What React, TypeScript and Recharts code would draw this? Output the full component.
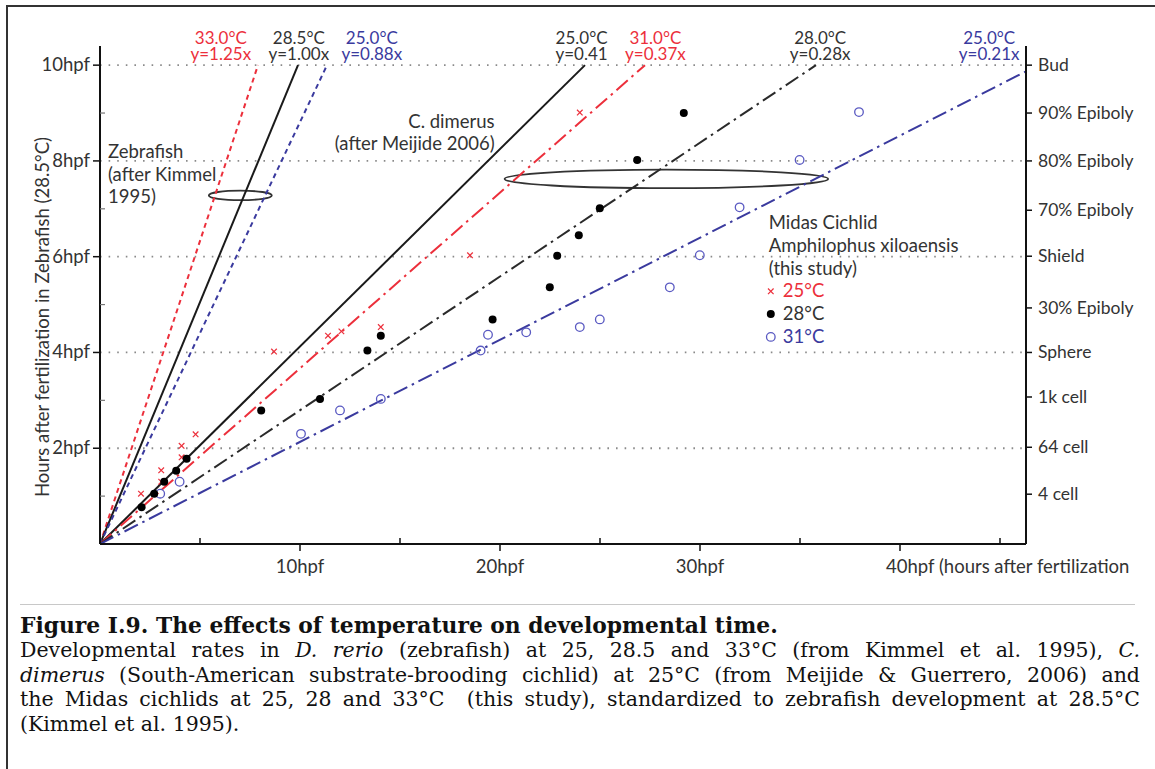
import React from "react";
import {
  ComposedChart,
  Line,
  Scatter,
  XAxis,
  YAxis,
  ReferenceLine,
  ReferenceArea,
  ReferenceDot,
} from "recharts";

const FONT = "Lato, 'Open Sans', sans-serif";
const RED = "#ec2f3b";
const BLUE = "#3a3a9e";
const BLUE_PT = "#5a5ac2";
const INK = "#333";
const AXIS = "#111";

// fitted development rates, standardized to zebrafish at 28.5°C
const fitTemps = ["33.0°C", "28.5°C", "25.0°C", "25.0°C", "31.0°C", "28.0°C", "25.0°C"];
const fitEquations = ["y=1.25x", "y=1.00x", "y=0.88x", "y=0.41", "y=0.37x", "y=0.28x", "y=0.21x"];
const fitEndX = [7.9, 9.9, 11.35, 24.25, 27.25, 35.8, 46.3];
const fitEndY = [10, 10, 10, 10, 10, 10, 9.87];
const fitLabelX = [6.04, 9.94, 13.59, 24.08, 27.77, 36.01, 44.46];

const DASHDOT = "15 5 2.5 5";
const fitStyles = [
  { color: RED, dash: "5 4" },
  { color: "#1a1a1a", dash: undefined },
  { color: BLUE, dash: "5 4" },
  { color: "#1a1a1a", dash: undefined },
  { color: RED, dash: DASHDOT },
  { color: "#2a2a2a", dash: DASHDOT },
  { color: BLUE, dash: DASHDOT },
];

// Midas cichlid observations [hpf, zebrafish-equivalent hpf]
const midas25: [number, number][] = [
  [2.05, 1.05], [3.06, 1.3], [3.06, 1.54], [4.08, 1.81], [4.08, 2.05], [4.78, 2.29],
  [8.7, 4.02], [11.4, 4.35], [12.07, 4.44], [14.04, 4.53], [18.5, 6.03], [23.99, 9.01],
];
const midas28: [number, number][] = [
  [2.08, 0.77], [2.71, 1.05], [3.21, 1.3], [3.81, 1.53], [4.33, 1.78], [8.06, 2.79],
  [11.0, 3.03], [13.37, 4.04], [14.04, 4.35], [19.63, 4.69], [22.49, 5.36], [22.86, 6.02],
  [23.94, 6.45], [24.99, 7.01], [26.86, 8.02], [29.19, 9.0],
];
const midas31: [number, number][] = [
  [3.01, 1.05], [3.98, 1.3], [10.05, 2.3], [12.0, 2.79], [14.04, 3.03], [19.03, 4.04],
  [19.4, 4.37], [21.31, 4.42], [23.99, 4.53], [24.99, 4.69], [28.49, 5.36], [29.99, 6.03],
  [31.98, 7.03], [34.98, 8.02], [37.95, 9.02],
];

const xTicks = [5, 10, 15, 20, 25, 30, 35, 40, 45];
const hourTicks = [1, 2, 3, 4, 5, 6, 7, 8, 9, 10];
const gridLevels = [2, 4, 6, 8, 10];
const stageHours = [1.04, 2.02, 3.07, 4.0, 4.93, 6.01, 6.97, 8.0, 9.0, 10.0];
const stageNames = [
  "4 cell", "64 cell", "1k cell", "Sphere", "30% Epiboly", "Shield",
  "70% Epiboly", "80% Epiboly", "90% Epiboly", "Bud",
];

// annotation ellipses [x1, x2, y1, y2]
const zebraEllipse = [5.44, 8.59, 7.18, 7.38];
const cichlidEllipse = [20.23, 36.41, 7.43, 7.82];

const toPts = (arr: [number, number][]) => arr.map(([x, y]) => ({ x, y }));

function Cross({ cx, cy }: any) {
  const s = 2.8;
  return (
    <g stroke={RED} strokeWidth={1.2}>
      <line x1={cx - s} y1={cy - s} x2={cx + s} y2={cy + s} />
      <line x1={cx - s} y1={cy + s} x2={cx + s} y2={cy - s} />
    </g>
  );
}
const Dot = ({ cx, cy }: any) => <circle cx={cx} cy={cy} r={4} fill="#000" />;
const Ring = ({ cx, cy }: any) => (
  <circle cx={cx} cy={cy} r={4.3} fill="none" stroke={BLUE_PT} strokeWidth={1.3} />
);

function XTick({ x, y, payload }: any) {
  const v = payload.value;
  if (v % 10 !== 0) return <line x1={x} x2={x} y1={y} y2={y - 6} stroke={AXIS} strokeWidth={1.5} />;
  const last = v === 40;
  return (
    <g>
      <line x1={x} x2={x} y1={y} y2={y + 7} stroke={AXIS} strokeWidth={1.5} />
      <text
        x={last ? x - 14 : x}
        y={y + 29}
        textAnchor={last ? "start" : "middle"}
        fontFamily={FONT}
        fontSize={18.5}
        fill={INK}
      >
        {last ? "40hpf (hours after fertilization" : `${v}hpf`}
      </text>
    </g>
  );
}

function HourTick({ x, y, payload }: any) {
  const v = payload.value;
  if (v % 2 !== 0) return <line x1={x} x2={x + 5} y1={y} y2={y} stroke="#777" strokeWidth={1.2} />;
  return (
    <g>
      <line x1={x - 7} x2={x} y1={y} y2={y} stroke={AXIS} strokeWidth={1.5} />
      <text x={x - 10} y={y + 6} textAnchor="end" fontFamily={FONT} fontSize={18.5} fill={INK}>
        {v}hpf
      </text>
    </g>
  );
}

function StageTick({ x, y, payload, index }: any) {
  return (
    <g>
      <line x1={x} x2={x + 6} y1={y} y2={y} stroke={AXIS} strokeWidth={1.5} />
      <text x={x + 12} y={y + 6} fontFamily={FONT} fontSize={17.5} fill={INK}>
        {stageNames[index] ?? String(payload.value)}
      </text>
    </g>
  );
}

function Ellipse({ x, y, width, height }: any) {
  return (
    <ellipse
      cx={x + width / 2}
      cy={y + height / 2}
      rx={width / 2}
      ry={height / 2}
      fill="none"
      stroke="#333"
      strokeWidth={1.8}
    />
  );
}

function textBlock(lines: string[], anchor: "start" | "end", gap: number) {
  return ({ cx, cy }: any) => (
    <text fontFamily={FONT} fontSize={18.5} fill={INK} textAnchor={anchor}>
      {lines.map((l, i) => (
        <tspan key={i} x={cx} y={cy + i * gap}>
          {l}
        </tspan>
      ))}
    </text>
  );
}

function FitLabel(i: number) {
  const c = fitStyles[i].color;
  const color = c === RED || c === BLUE ? c : INK;
  return ({ cx, cy }: any) => (
    <text fontFamily={FONT} fontSize={17} fill={color} textAnchor="middle">
      <tspan x={cx} y={cy - 2}>{fitTemps[i]}</tspan>
      <tspan x={cx} y={cy + 14}>{fitEquations[i]}</tspan>
    </text>
  );
}

function MidasNote({ cx, cy }: any) {
  const gap = 22.8;
  const rows = ["Midas Cichlid", "Amphilophus xiloaensis", "(this study)"];
  const keys = [
    { label: "25°C", color: RED, Mark: Cross },
    { label: "28°C", color: INK, Mark: Dot },
    { label: "31°C", color: BLUE, Mark: Ring },
  ];
  return (
    <g fontFamily={FONT} fontSize={18.5}>
      {rows.map((r, i) => (
        <text key={r} x={cx} y={cy + i * gap} fill={INK}>
          {r}
        </text>
      ))}
      {keys.map((k, i) => {
        const by = cy + (i + 3) * gap;
        const Mark = k.Mark;
        return (
          <g key={k.label}>
            <Mark cx={cx + 2} cy={by - 6} />
            <text x={cx + 14} y={by} fill={k.color}>
              {k.label}
            </text>
          </g>
        );
      })}
    </g>
  );
}

function YLabel({ viewBox }: any) {
  const cx = viewBox.x + viewBox.width - 58;
  const cy = viewBox.y + viewBox.height / 2 + 22;
  return (
    <text
      x={cx}
      y={cy}
      transform={`rotate(-90 ${cx} ${cy})`}
      textAnchor="middle"
      dominantBaseline="central"
      fontFamily={FONT}
      fontSize={18.5}
      fill={INK}
    >
      Hours after fertilization in Zebrafish (28.5°C)
    </text>
  );
}

const captionLines = [
  <>Developmental rates in <i>D. rerio</i> (zebrafish) at 25, 28.5 and 33°C (from Kimmel et al. 1995), <i>C.</i></>,
  <><i>dimerus</i> (South-American substrate-brooding cichlid) at 25°C (from Meijide &amp; Guerrero, 2006) and</>,
  <>the Midas cichlids at 25, 28 and 33°C&nbsp; (this study), standardized to zebrafish development at 28.5°C</>,
];

export default function App() {
  return (
    <div style={{ position: "absolute", left: 0, top: 0, width: 1155, height: 769, background: "#fff", overflow: "hidden" }}>
      <div
        style={{
          position: "absolute",
          left: 6,
          top: 5,
          width: 1155,
          height: 780,
          borderTop: "2px solid #333",
          borderLeft: "2px solid #333",
        }}
      />
      <div style={{ position: "absolute", left: 0, top: 0 }}>
        <ComposedChart width={1155} height={600} margin={{ top: 46, right: 29, bottom: 16, left: 40 }}>
          <XAxis
            type="number"
            dataKey="x"
            domain={[0, 46.3]}
            ticks={xTicks}
            interval={0}
            height={40}
            tickSize={0}
            tickMargin={0}
            tick={XTick}
            axisLine={{ stroke: AXIS, strokeWidth: 2 }}
            allowDataOverflow
          />
          <YAxis
            type="number"
            domain={[0, 10.4]}
            ticks={hourTicks}
            interval={0}
            width={60}
            tickSize={0}
            tickMargin={0}
            tick={HourTick}
            axisLine={{ stroke: AXIS, strokeWidth: 2 }}
            allowDataOverflow
            label={<YLabel />}
          />
          <YAxis
            yAxisId="stage"
            orientation="right"
            type="number"
            domain={[0, 10.4]}
            ticks={stageHours}
            interval={0}
            width={100}
            tickSize={0}
            tickMargin={0}
            tick={StageTick}
            axisLine={{ stroke: AXIS, strokeWidth: 2 }}
            allowDataOverflow
          />
          {gridLevels.map((g) => (
            <ReferenceLine key={g} y={g} stroke="#8a8a8a" strokeWidth={1.8} strokeDasharray="1.6 7" />
          ))}
          <ReferenceArea
            x1={zebraEllipse[0]}
            x2={zebraEllipse[1]}
            y1={zebraEllipse[2]}
            y2={zebraEllipse[3]}
            shape={Ellipse}
          />
          <ReferenceArea
            x1={cichlidEllipse[0]}
            x2={cichlidEllipse[1]}
            y1={cichlidEllipse[2]}
            y2={cichlidEllipse[3]}
            shape={Ellipse}
          />
          {fitEndX.map((ex, i) => (
            <Line
              key={`fit-${i}`}
              data={[
                { x: 0, y: 0 },
                { x: ex, y: fitEndY[i] },
              ]}
              dataKey="y"
              stroke={fitStyles[i].color}
              strokeWidth={2}
              strokeDasharray={fitStyles[i].dash}
              dot={false}
              activeDot={false}
              isAnimationActive={false}
            />
          ))}
          <Scatter data={toPts(midas31)} dataKey="y" shape={Ring} isAnimationActive={false} />
          <Scatter data={toPts(midas25)} dataKey="y" shape={Cross} isAnimationActive={false} />
          <Scatter data={toPts(midas28)} dataKey="y" shape={Dot} isAnimationActive={false} />
          {fitLabelX.map((lx, i) => (
            <ReferenceDot key={`lab-${i}`} x={lx} y={10.4} r={1} shape={FitLabel(i)} ifOverflow="visible" />
          ))}
          <ReferenceDot
            x={0.4}
            y={8.06}
            r={1}
            shape={textBlock(["Zebrafish", "(after Kimmel", "1995)"], "start", 22.5)}
            ifOverflow="visible"
          />
          <ReferenceDot
            x={19.73}
            y={8.69}
            r={1}
            shape={textBlock(["C. dimerus", "(after Meijide 2006)"], "end", 22)}
            ifOverflow="visible"
          />
          <ReferenceDot x={33.44} y={6.58} r={1} shape={MidasNote} ifOverflow="visible" />
        </ComposedChart>
      </div>
      <div style={{ position: "absolute", left: 20, top: 604, width: 1115, height: 1, background: "#c8c8c8" }} />
      <div
        style={{
          position: "absolute",
          left: 20,
          top: 614,
          width: 1120,
          fontFamily: "'DejaVu Serif', serif",
          fontSize: 20.5,
          lineHeight: "24.4px",
          color: "#111",
        }}
      >
        <div style={{ fontWeight: "bold", whiteSpace: "nowrap", fontSize: 21.8 }}>
          Figure I.9. The effects of temperature on developmental time.
        </div>
        {captionLines.map((l, i) => (
          <div key={i} style={{ whiteSpace: "nowrap", textAlign: "justify", textAlignLast: "justify" }}>
            {l}
          </div>
        ))}
        <div>(Kimmel et al. 1995).</div>
      </div>
    </div>
  );
}
